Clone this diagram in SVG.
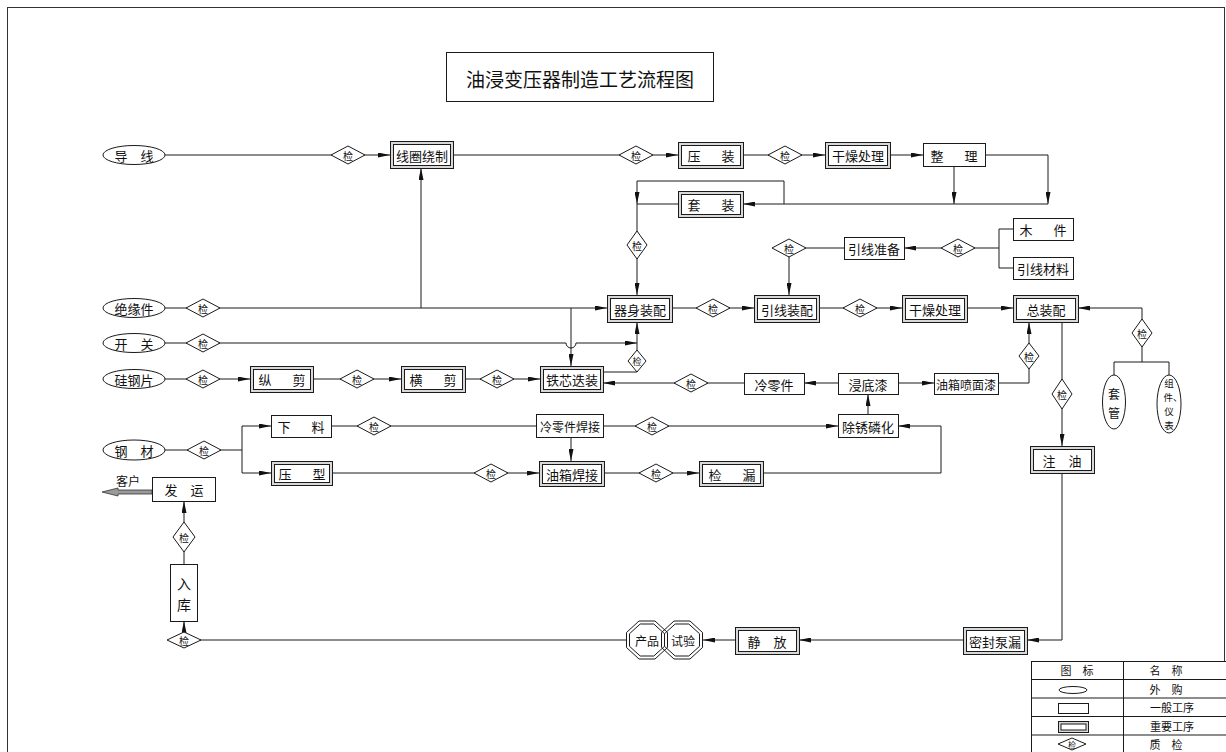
<svg xmlns="http://www.w3.org/2000/svg" width="1226" height="752" viewBox="0 0 1226 752">
<defs>
<style>
.ln{fill:none;stroke:#1a1a1a;stroke-width:1}
.arr{marker-end:url(#ah)}
.bx{fill:#fff;stroke:#1a1a1a;stroke-width:1}
.dbo{fill:#d8d8d8;stroke:#1a1a1a;stroke-width:1}
.dbi{fill:#fff;stroke:#1a1a1a;stroke-width:1}
.el{fill:#fff;stroke:#1a1a1a;stroke-width:1}
.dm{fill:#fff;stroke:#1a1a1a;stroke-width:1}
.oc{fill:none;stroke:#1a1a1a;stroke-width:1}
text{font-family:"Noto Sans CJK SC","Noto Sans CJK TC",sans-serif;fill:#111;text-anchor:middle;dominant-baseline:central}
.t{font-size:13px}
.s{font-size:12px}
.xs{font-size:11px}
.q{font-size:10px}
.w{letter-spacing:4px}
</style>
<marker id="ah" viewBox="0 0 12 5" refX="12" refY="2.5" markerWidth="12" markerHeight="5" markerUnits="userSpaceOnUse" orient="auto"><path d="M0,0 L12,2.5 L0,5 z" fill="#111"/></marker>
</defs>
<rect x="7.5" y="7.5" width="1217" height="760" fill="none" stroke="#333" stroke-width="1"/>

<g id="title"><rect x="446.5" y="52.5" width="267" height="49" class="bx"/><text x="580" y="78" style="font-size:19px">油浸变压器制造工艺流程图</text></g>

<g id="connectors">
<path class="ln arr" d="M165,155 H390"/>
<path class="ln arr" d="M453,155 H678"/>
<path class="ln arr" d="M743,155 H825"/>
<path class="ln arr" d="M890,155 H923"/>
<path class="ln arr" d="M985,155 H1048 V204"/>
<path class="ln arr" d="M954,166 V204"/>
<path class="ln arr" d="M1048,204 H743"/>
<path class="ln arr" d="M784,204 V181 H637 V204"/>
<path class="ln" d="M678,204 H637"/>
<path class="ln arr" d="M637,204 V295"/>
<path class="ln arr" d="M672,308 H754"/>
<path class="ln arr" d="M819,308 H902"/>
<path class="ln arr" d="M967,308 H1013"/>
<path class="ln arr" d="M999,248 H904"/>
<path class="ln" d="M999,229 V268 M999,229 H1013 M999,268 H1013"/>
<path class="ln arr" d="M844,248 H789 V295"/>
<path class="ln arr" d="M1142,333 V308 H1078"/>
<path class="ln" d="M1142,333 V362 M1114,375 V362 H1169 V375"/>
<path class="ln arr" d="M165,308 H607"/>
<path class="ln arr" d="M421,308 V168"/>
<path class="ln arr" d="M571,308 V366"/>
<path class="ln arr" d="M165,343 H566 A5,5 0 0 0 576,343 H637"/>
<path class="ln arr" d="M603,372 H637 V322"/>
<path class="ln arr" d="M165,379 H250"/>
<path class="ln arr" d="M313,379 H401"/>
<path class="ln arr" d="M465,379 H540"/>
<path class="ln arr" d="M744,383 H603"/>
<path class="ln arr" d="M838,383 H804"/>
<path class="ln arr" d="M898,383 H934"/>
<path class="ln arr" d="M868,414 V394"/>
<path class="ln arr" d="M998,383 H1029 V322"/>
<path class="ln" d="M165,450 H242 M242,426 V473"/>
<path class="ln arr" d="M242,426 H271"/>
<path class="ln arr" d="M242,473 H271"/>
<path class="ln" d="M331,426 H536"/>
<path class="ln arr" d="M603,426 H838"/>
<path class="ln arr" d="M571,437 V461"/>
<path class="ln arr" d="M332,473 H539"/>
<path class="ln arr" d="M604,473 H699"/>
<path class="ln arr" d="M763,473 H941 V426 H898"/>
<path class="ln arr" d="M1062,322 V446"/>
<path class="ln arr" d="M1062,473 V640 H1027"/>
<path class="ln arr" d="M963,640 H799"/>
<path class="ln arr" d="M735,640 H703"/>
<path class="ln" d="M627,640 H184"/>
<path class="ln arr" d="M184,640 V621"/>
<path class="ln" d="M184,564 V537"/>
<path class="ln arr" d="M184,537 V501"/>
<polygon points="152,490 118,490 118,488 102,492 118,496 118,494 152,494" fill="#9a9a9a" stroke="#333" stroke-width="0.8"/>
</g>

<g id="n-daoxian"><ellipse cx="134" cy="155" rx="31" ry="9.5" class="el"/><text x="134" y="155" class="t">导　线</text></g>
<g id="n-jueyuanjian"><ellipse cx="134" cy="308" rx="31" ry="9.5" class="el"/><text x="134" y="308" class="t">绝缘件</text></g>
<g id="n-kaiguan"><ellipse cx="134" cy="343" rx="31" ry="9.5" class="el"/><text x="134" y="343" class="t">开　关</text></g>
<g id="n-guigangpian"><ellipse cx="134" cy="379" rx="31" ry="9.5" class="el"/><text x="134" y="379" class="t">硅钢片</text></g>
<g id="n-gangcai"><ellipse cx="134" cy="450" rx="31" ry="10" class="el"/><text x="134" y="450" class="t">钢　材</text></g>
<g id="n-taoguan"><ellipse cx="1114" cy="402" rx="11.5" ry="27" class="el"/><text x="1114" y="393" class="s">套</text><text x="1114" y="412" class="s">管</text></g>
<g id="n-zujian"><ellipse cx="1169" cy="404" rx="12" ry="29" class="el"/><text style="font-size:9.5px"><tspan x="1169" y="383">组</tspan><tspan x="1173" y="397">件、</tspan><tspan x="1169" y="411">仪</tspan><tspan x="1169" y="425">表</tspan></text></g>

<g id="n-xianquan"><rect x="390.5" y="141.5" width="63" height="27" class="dbo"/><rect x="393.5" y="144.5" width="57" height="21" class="dbi"/><text x="422" y="155" class="t">线圈绕制</text></g>
<g id="n-yazhuang"><rect x="678.5" y="142.5" width="65" height="26" class="dbo"/><rect x="681.5" y="145.5" width="59" height="20" class="dbi"/><text x="713" y="155" class="t w">压　装</text></g>
<g id="n-ganzao1"><rect x="825.5" y="142.5" width="65" height="26" class="dbo"/><rect x="828.5" y="145.5" width="59" height="20" class="dbi"/><text x="858" y="155" class="t">干燥处理</text></g>
<g id="n-zhengli"><rect x="923.5" y="143.5" width="62" height="23" class="bx"/><text x="956" y="155" class="t w">整　理</text></g>
<g id="n-taozhuang"><rect x="678.5" y="191.5" width="65" height="26" class="dbo"/><rect x="681.5" y="194.5" width="59" height="20" class="dbi"/><text x="713" y="204" class="t w">套　装</text></g>
<g id="n-qishen"><rect x="607.5" y="295.5" width="65" height="27" class="dbo"/><rect x="610.5" y="298.5" width="59" height="21" class="dbi"/><text x="640" y="309" class="t">器身装配</text></g>
<g id="n-yinxianzp"><rect x="754.5" y="295.5" width="65" height="27" class="dbo"/><rect x="757.5" y="298.5" width="59" height="21" class="dbi"/><text x="787" y="309" class="t">引线装配</text></g>
<g id="n-ganzao2"><rect x="902.5" y="295.5" width="65" height="27" class="dbo"/><rect x="905.5" y="298.5" width="59" height="21" class="dbi"/><text x="935" y="309" class="t">干燥处理</text></g>
<g id="n-zongzhuang"><rect x="1013.5" y="295.5" width="65" height="27" class="dbo"/><rect x="1016.5" y="298.5" width="59" height="21" class="dbi"/><text x="1046" y="309" class="t">总装配</text></g>
<g id="n-yinxianzb"><rect x="844.5" y="237.5" width="60" height="22" class="bx"/><text x="874" y="248" class="t">引线准备</text></g>
<g id="n-mujian"><rect x="1013.5" y="218.5" width="60" height="22" class="bx"/><text x="1045" y="229" class="t w">木　件</text></g>
<g id="n-yinxiancl"><rect x="1013.5" y="257.5" width="60" height="22" class="bx"/><text x="1043" y="268" class="t">引线材料</text></g>
<g id="n-zongjian"><rect x="250.5" y="366.5" width="63" height="26" class="dbo"/><rect x="253.5" y="369.5" width="57" height="20" class="dbi"/><text x="284" y="379" class="t w">纵　剪</text></g>
<g id="n-hengjian"><rect x="401.5" y="366.5" width="64" height="26" class="dbo"/><rect x="404.5" y="369.5" width="58" height="20" class="dbi"/><text x="435" y="379" class="t w">横　剪</text></g>
<g id="n-tiexin"><rect x="540.5" y="366.5" width="63" height="26" class="dbo"/><rect x="543.5" y="369.5" width="57" height="20" class="dbi"/><text x="572" y="379" class="t">铁芯迭装</text></g>
<g id="n-lenglingjian"><rect x="744.5" y="373.5" width="60" height="21" class="bx"/><text x="774" y="384" class="t">冷零件</text></g>
<g id="n-jindiqi"><rect x="838.5" y="373.5" width="60" height="21" class="bx"/><text x="868" y="384" class="t">浸底漆</text></g>
<g id="n-youxiangpq"><rect x="934.5" y="373.5" width="64" height="21" class="bx"/><text x="966" y="384" class="s">油箱喷面漆</text></g>
<g id="n-chuxiu"><rect x="838.5" y="414.5" width="60" height="23" class="bx"/><text x="868" y="426" class="t">除锈磷化</text></g>
<g id="n-xialiao"><rect x="271.5" y="415.5" width="60" height="22" class="bx"/><text x="303" y="426" class="t w">下　料</text></g>
<g id="n-yaxing"><rect x="271.5" y="461.5" width="61" height="24" class="dbo"/><rect x="274.5" y="464.5" width="55" height="18" class="dbi"/><text x="304" y="473" class="t w">压　型</text></g>
<g id="n-lenglingjianhj"><rect x="536.5" y="414.5" width="67" height="23" class="bx"/><text x="570" y="426" class="s">冷零件焊接</text></g>
<g id="n-youxianghj"><rect x="539.5" y="461.5" width="65" height="25" class="dbo"/><rect x="542.5" y="464.5" width="59" height="19" class="dbi"/><text x="572" y="474" class="t">油箱焊接</text></g>
<g id="n-jianlou"><rect x="699.5" y="461.5" width="64" height="25" class="dbo"/><rect x="702.5" y="464.5" width="58" height="19" class="dbi"/><text x="734" y="474" class="t w">检　漏</text></g>
<g id="n-zhuyou"><rect x="1030.5" y="446.5" width="64" height="27" class="dbo"/><rect x="1033.5" y="449.5" width="58" height="21" class="dbi"/><text x="1062" y="460" class="t">注　油</text></g>
<g id="n-mifeng"><rect x="963.5" y="627.5" width="64" height="27" class="dbo"/><rect x="966.5" y="630.5" width="58" height="21" class="dbi"/><text x="995" y="641" class="t">密封泵漏</text></g>
<g id="n-jingfang"><rect x="735.5" y="627.5" width="64" height="27" class="dbo"/><rect x="738.5" y="630.5" width="58" height="21" class="dbi"/><text x="767" y="641" class="t">静　放</text></g>
<g id="n-chanpin-shiyan">
<polygon points="639,621 655,621 667.5,632.5 667.5,647.5 655,659 639,659 626.5,647.5 626.5,632.5" fill="#fff"/>
<polygon points="674,621 690,621 702.5,632.5 702.5,647.5 690,659 674,659 661.5,647.5 661.5,632.5" fill="#fff"/>
<polygon class="oc" points="639,621 655,621 667.5,632.5 667.5,647.5 655,659 639,659 626.5,647.5 626.5,632.5"/>
<polygon class="oc" points="640.2,624 653.8,624 664.5,633.7 664.5,646.3 653.8,656 640.2,656 629.5,646.3 629.5,633.7"/>
<polygon class="oc" points="674,621 690,621 702.5,632.5 702.5,647.5 690,659 674,659 661.5,647.5 661.5,632.5"/>
<polygon class="oc" points="675.2,624 688.8,624 699.5,633.7 699.5,646.3 688.8,656 675.2,656 664.5,646.3 664.5,633.7"/>
<text x="647" y="640" class="s">产品</text><text x="683" y="640" class="s">试验</text>
</g>
<g id="n-ruku"><rect x="170.5" y="564.5" width="27" height="57" class="bx"/><text x="184" y="583" style="font-size:14px">入</text><text x="184" y="604" style="font-size:14px">库</text></g>
<g id="n-fayun"><rect x="152.5" y="477.5" width="63" height="24" class="bx"/><text x="184" y="489" class="t">发　运</text></g>
<g id="n-kehu"><text x="128" y="480" class="s">客户</text></g>

<g id="checks">
<g id="d1"><polygon class="dm" points="331,155 348,146 365,155 348,164"/><text x="348" y="155" class="q">检</text></g>
<g id="d2"><polygon class="dm" points="619,155 636,146 653,155 636,164"/><text x="636" y="155" class="q">检</text></g>
<g id="d3"><polygon class="dm" points="768,155 785,146 802,155 785,164"/><text x="785" y="155" class="q">检</text></g>
<g id="d4"><polygon class="dm" points="696,308 713,299 730,308 713,317"/><text x="713" y="308" class="q">检</text></g>
<g id="d5"><polygon class="dm" points="843,308 860,299 877,308 860,317"/><text x="860" y="308" class="q">检</text></g>
<g id="d6"><polygon class="dm" points="772,248 789,239 806,248 789,257"/><text x="789" y="248" class="q">检</text></g>
<g id="d7"><polygon class="dm" points="941,248 958,239 975,248 958,257"/><text x="958" y="248" class="q">检</text></g>
<g id="d8"><polygon class="dm" points="186,308 203,299 220,308 203,317"/><text x="203" y="308" class="q">检</text></g>
<g id="d9"><polygon class="dm" points="186,343 203,334 220,343 203,352"/><text x="203" y="343" class="q">检</text></g>
<g id="d10"><polygon class="dm" points="186,379 203,370 220,379 203,388"/><text x="203" y="379" class="q">检</text></g>
<g id="d11"><polygon class="dm" points="340,379 357,370 374,379 357,388"/><text x="357" y="379" class="q">检</text></g>
<g id="d12"><polygon class="dm" points="480,379 497,370 514,379 497,388"/><text x="497" y="379" class="q">检</text></g>
<g id="d13"><polygon class="dm" points="674,383 691,374 708,383 691,392"/><text x="691" y="383" class="q">检</text></g>
<g id="d14"><polygon class="dm" points="187,450 204,441 221,450 204,459"/><text x="204" y="450" class="q">检</text></g>
<g id="d15"><polygon class="dm" points="357,426 374,417 391,426 374,435"/><text x="374" y="426" class="q">检</text></g>
<g id="d16"><polygon class="dm" points="635,426 652,417 669,426 652,435"/><text x="652" y="426" class="q">检</text></g>
<g id="d17"><polygon class="dm" points="474,473 491,464 508,473 491,482"/><text x="491" y="473" class="q">检</text></g>
<g id="d18"><polygon class="dm" points="639,473 656,464 673,473 656,482"/><text x="656" y="473" class="q">检</text></g>
<g id="d19"><polygon class="dm" points="167,640 184,632 201,640 184,648"/><text x="184" y="640" class="q">检</text></g>
<g id="v1"><polygon class="dm" points="627,245 637,231 647,245 637,259"/><text x="637" y="245" class="q">检</text></g>
<g id="v2"><polygon class="dm" points="628,361 637,350 646,361 637,372"/><text x="637" y="361" class="q" style="font-size:9px">检</text></g>
<g id="v3"><polygon class="dm" points="1019,356 1029,343 1039,356 1029,369"/><text x="1029" y="356" class="q">检</text></g>
<g id="v4"><polygon class="dm" points="1052,394 1062,379 1072,394 1062,409"/><text x="1062" y="394" class="q">检</text></g>
<g id="v5"><polygon class="dm" points="1132,333 1142,319 1152,333 1142,347"/><text x="1142" y="333" class="q">检</text></g>
<g id="v6"><polygon class="dm" points="173,537 184,522 195,537 184,552"/><text x="184" y="537" class="q">检</text></g>
</g>

<g id="legend">
<rect x="1031.5" y="661.5" width="200" height="100" class="bx"/>
<path class="ln" d="M1123.5,661 V752 M1031,679.5 H1226 M1031,698 H1226 M1031,716.5 H1226 M1031,735 H1226"/>
<text x="1077" y="670" class="xs">图　标</text><text x="1166" y="670" class="xs">名　称</text>
<ellipse cx="1073" cy="690" rx="14" ry="3.5" class="el"/><text x="1166" y="689" class="xs">外　购</text>
<rect x="1058.5" y="703.5" width="30" height="10" class="bx"/><text x="1172" y="707" class="xs">一般工序</text>
<rect x="1058.5" y="721.5" width="30" height="11" class="dbo"/><rect x="1061" y="724" width="25" height="6" class="dbi"/><text x="1172" y="726" class="xs">重要工序</text>
<polygon class="dm" points="1058,744 1072,738 1086,744 1072,750"/><text x="1072" y="744" style="font-size:8px">检</text><text x="1166" y="744" class="xs">质　检</text>
</g>
</svg>
